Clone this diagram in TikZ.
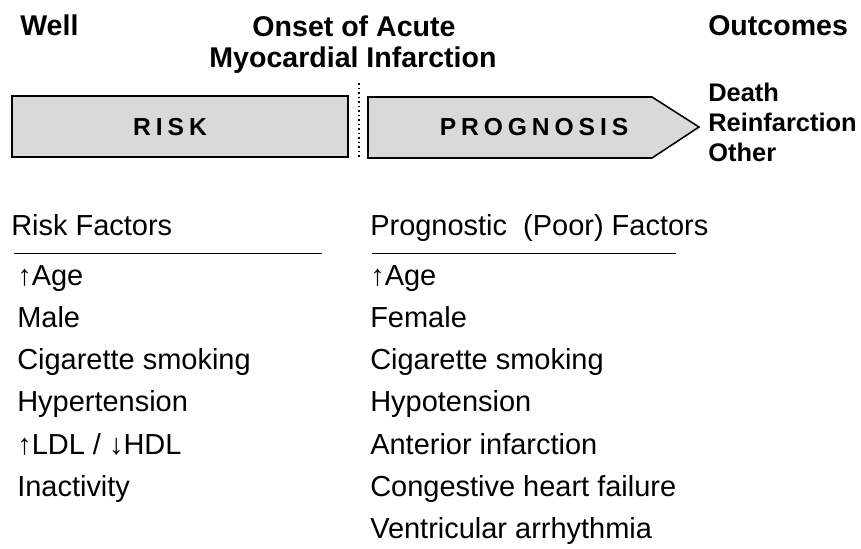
\documentclass[tikz,border=0pt]{standalone}
\usepackage{fontspec}
\setmainfont{Liberation Sans}
\usepackage{tikz}
\usetikzlibrary{positioning}

\begin{document}
\begin{tikzpicture}[
  x=0.025cm, y=-0.025cm,
  hdr/.style={font=\fontsize{20.3}{24}\selectfont\bfseries, inner sep=0pt},
  outc/.style={font=\fontsize{18.1}{22}\selectfont\bfseries, inner sep=0pt, anchor=base west},
  band/.style={draw, line width=1.1pt, fill=black!15},
  tag/.style={font=\fontsize{17.5}{20}\selectfont\bfseries\addfontfeature{LetterSpace=20}, inner sep=0pt},
  item/.style={font=\fontsize{20.6}{24}\selectfont, inner sep=0pt, anchor=base west},
  rule/.style={line width=0.7pt}
]
  \useasboundingbox (0,0) rectangle (861,548);

  % time line headings
  \node[hdr, anchor=base west] (well) at (20,35) {Well};
  \node[hdr, anchor=base] (onset) at (354,36) {Onset of Acute};
  \node[hdr, anchor=base] (ami) at (353,67) {Myocardial Infarction};
  \node[hdr, anchor=base west] (outcomes) at (708,35) {Outcomes};

  % risk band and prognosis arrow
  \draw[band] (12,96) rectangle (348,157);
  \node[tag] (risk) at (170,127) {RISK};
  \draw[band] (368,97) -- (652,97) -- (699,127) -- (652,158) -- (368,158) -- cycle;
  \node[tag] (prog) at (534,127) {PROGNOSIS};
  \coordinate (sept) at (359,83);
  \coordinate (sepb) at (359,157);
  \draw[dotted, line width=1.2pt] (sept) -- (sepb);

  \node[outc] (death) at (708,101) {Death};
  \node[outc] (reinf) at (708,131) {Reinfarction};
  \node[outc] (other) at (708,161) {Other};

  % risk factors
  \node[item] (rhdr) at (11,235) {Risk Factors};
  \coordinate (rl1) at (14,253);
  \coordinate (rl2) at (322,253);
  \draw[rule] (rl1) -- (rl2);
  \node[item] (r1) at (17,285) {↑Age};
  \node[item] (r2) at (17,327) {Male};
  \node[item] (r3) at (17,369) {Cigarette smoking};
  \node[item] (r4) at (17,411) {Hypertension};
  \node[item] (r5) at (17,454) {↑LDL / ↓HDL};
  \node[item] (r6) at (17,496) {Inactivity};

  % prognostic factors
  \node[item] (phdr) at (370,235) {Prognostic\ \ (Poor) Factors};
  \coordinate (pl1) at (372,253);
  \coordinate (pl2) at (676,253);
  \draw[rule] (pl1) -- (pl2);
  \node[item] (p1) at (370,285) {↑Age};
  \node[item] (p2) at (370,327) {Female};
  \node[item] (p3) at (370,369) {Cigarette smoking};
  \node[item] (p4) at (370,411) {Hypotension};
  \node[item] (p5) at (370,454) {Anterior infarction};
  \node[item] (p6) at (370,496) {Congestive heart failure};
  \node[item] (p7) at (370,538) {Ventricular arrhythmia};
\end{tikzpicture}
\end{document}
